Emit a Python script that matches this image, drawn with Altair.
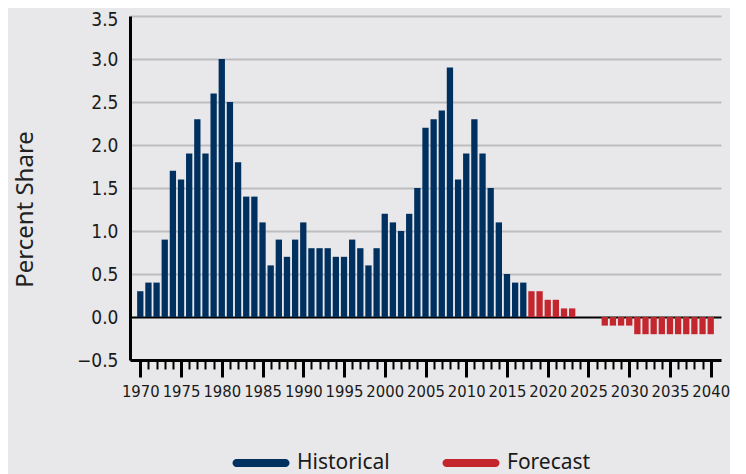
import altair as alt
import pandas as pd

hist_years = list(range(1970, 2018))
hist_values = [0.3, 0.4, 0.4, 0.9, 1.7, 1.6, 1.9, 2.3, 1.9, 2.6,
               3.0, 2.5, 1.8, 1.4, 1.4, 1.1, 0.6, 0.9, 0.7, 0.9,
               1.1, 0.8, 0.8, 0.8, 0.7, 0.7, 0.9, 0.8, 0.6, 0.8,
               1.2, 1.1, 1.0, 1.2, 1.5, 2.2, 2.3, 2.4, 2.9, 1.6,
               1.9, 2.3, 1.9, 1.5, 1.1, 0.5, 0.4, 0.4]
fc_years = list(range(2018, 2041))
fc_values = [0.3, 0.3, 0.2, 0.2, 0.1, 0.1, 0.0, 0.0, 0.0, -0.1,
             -0.1, -0.1, -0.1, -0.2, -0.2, -0.2, -0.2, -0.2, -0.2, -0.2,
             -0.2, -0.2, -0.2]
types = ["Historical", "Forecast"]
colors = ["#00305f", "#c4262e"]
y_ticks = [-0.5, 0.0, 0.5, 1.0, 1.5, 2.0, 2.5, 3.0, 3.5]
x_ticks = list(range(1970, 2041))

df = pd.DataFrame({
    "Year": hist_years + fc_years,
    "Share": hist_values + fc_values,
    "Type": [types[0]] * len(hist_years) + [types[1]] * len(fc_years),
})

cond_font = "DejaVu Sans Condensed, Roboto, sans-serif"
capsule = ("M-0.86,-0.14L0.86,-0.14A0.14,0.14 0 0 1 0.86,0.14"
           "L-0.86,0.14A0.14,0.14 0 0 1 -0.86,-0.14Z")

x_axis = alt.Axis(
    values=x_ticks,
    format="d",
    labelExpr="datum.value % 5 === 0 ? datum.label : ''",
    tickSize={"condition": {"test": "datum.value % 5 === 0", "value": 17}, "value": 9},
    tickWidth={"condition": {"test": "datum.value % 5 === 0", "value": 3}, "value": 2},
    tickColor="black",
    domainColor="black",
    domainWidth=3,
    grid=False,
    labelFont=cond_font,
    labelFontSize=16.5,
    labelColor="#1a1a1a",
    labelPadding=6,
    labelFlush=False,
    labelOverlap=False,
    title=None,
)

y_axis = alt.Axis(
    values=y_ticks,
    format=".1f",
    ticks=False,
    domainColor="black",
    domainWidth=3,
    grid=True,
    gridColor={"condition": {"test": "datum.value === 0", "value": "#000000"}, "value": "#bdbdc0"},
    gridWidth=2,
    labelFont=cond_font,
    labelFontSize=19,
    labelColor="#1a1a1a",
    labelPadding=12,
    labelOffset={"condition": {"test": "datum.value === 3.5", "value": 3}, "value": 0},
    title="Percent Share",
    titleFont="Noto Sans",
    titleFontSize=24,
    titleFontWeight="normal",
    titleColor="#222222",
    titleX=-98,
    titleY=193,
    titleAngle=-90,
    titleBaseline="alphabetic",
)

legend = alt.Legend(
    title=None,
    orient="none",
    direction="horizontal",
    legendX=102,
    legendY=418,
    symbolType=capsule,
    symbolSize=3250,
    symbolStrokeWidth=0,
    labelFont="Noto Sans",
    labelFontSize=21,
    labelColor="#1a1a1a",
    labelOffset=7,
    columnPadding=52,
)

chart = alt.Chart(df).mark_bar(size=6.3).encode(
    x=alt.X("Year:Q", scale=alt.Scale(domain=[1969.35, 2040.65], nice=False, zero=False), axis=x_axis),
    y=alt.Y("Share:Q", scale=alt.Scale(domain=[-0.5, 3.5], nice=False), axis=y_axis),
    color=alt.Color("Type:N", scale=alt.Scale(domain=types, range=colors), legend=legend),
).properties(
    width=591,
    height=344,
    autosize=alt.AutoSizeParams(type="none"),
    padding={"left": 122, "top": 8, "right": 9, "bottom": 114},
    background="#e8e8ea",
).configure_view(stroke=None)

chart.save("out.html", embed_options={"renderer": "svg", "actions": False})
